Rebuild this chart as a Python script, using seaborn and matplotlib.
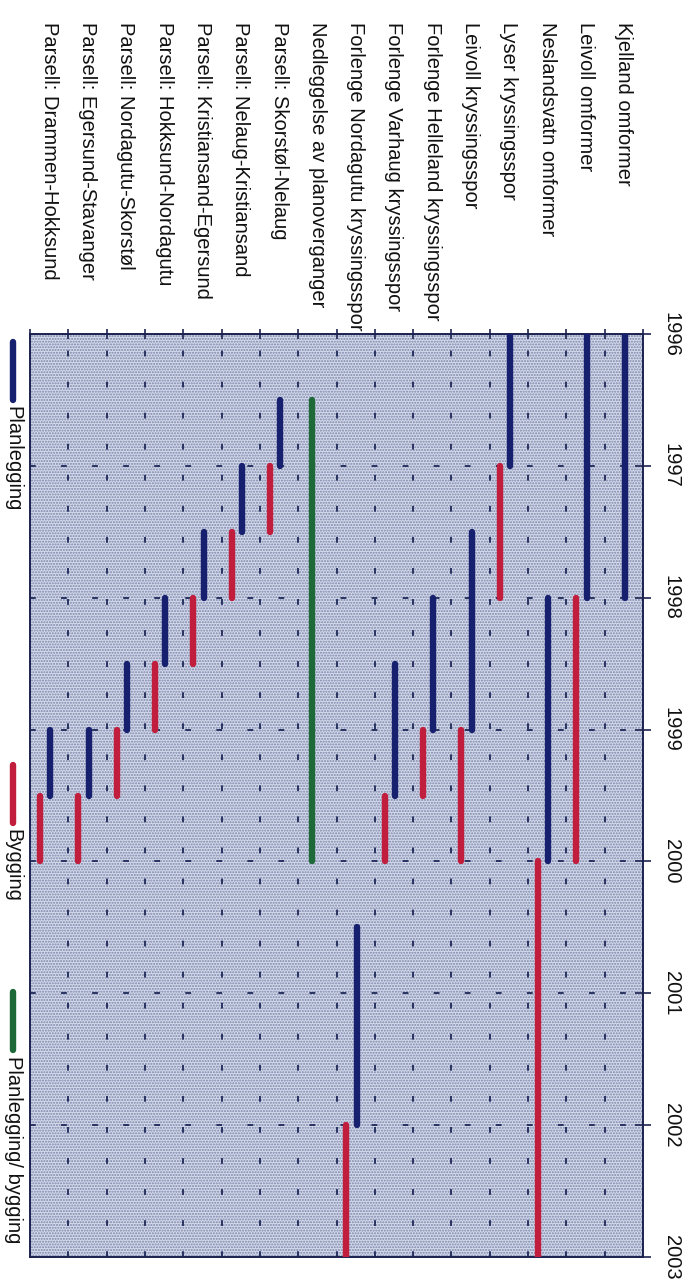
import pandas as pd
import matplotlib
matplotlib.use('Agg')
import matplotlib.pyplot as plt
import matplotlib.transforms as mtransforms
from matplotlib.lines import Line2D
from matplotlib.patches import Rectangle
import seaborn as sns

# --- Data ---
tasks = [
    "Kjelland omformer",
    "Leivoll omformer",
    "Neslandsvatn omformer",
    "Lyser kryssingsspor",
    "Leivoll kryssingsspor",
    "Forlenge Helleland kryssingsspor",
    "Forlenge Varhaug kryssingsspor",
    "Forlenge Nordagutu kryssingsspor",
    "Nedleggelse av planoverganger",
    "Parsell: Skorstøl-Nelaug",
    "Parsell: Nelaug-Kristiansand",
    "Parsell: Kristiansand-Egersund",
    "Parsell: Hokksund-Nordagutu",
    "Parsell: Nordagutu-Skorstøl",
    "Parsell: Egersund-Stavanger",
    "Parsell: Drammen-Hokksund",
]
plan_start = [1996, 1996, 1998, 1996, 1997.5, 1998, 1998.5, 2000.5, None, 1996.5, 1997, 1997.5, 1998, 1998.5, 1999, 1999]
plan_end = [1998, 1998, 2000, 1997, 1999, 1999, 1999.5, 2002, None, 1997, 1997.5, 1998, 1998.5, 1999, 1999.5, 1999.5]
build_start = [None, 1998, 2000, 1997, 1999, 1999, 1999.5, 2002, None, 1997, 1997.5, 1998, 1998.5, 1999, 1999.5, 1999.5]
build_end = [None, 2000, 2003, 1998, 2000, 1999.5, 2000, 2003, None, 1997.5, 1998, 1998.5, 1999, 1999.5, 2000, 2000]
both_start = [None, None, None, None, None, None, None, None, 1996.5, None, None, None, None, None, None, None]
both_end = [None, None, None, None, None, None, None, None, 2000, None, None, None, None, None, None, None]
years = [1996, 1997, 1998, 1999, 2000, 2001, 2002, 2003]

phases = ['Planlegging', 'Bygging', 'Planlegging/ bygging']
colors = {'Planlegging': '#16206e', 'Bygging': '#c11d3c', 'Planlegging/ bygging': '#1d6a38'}
offset = {'Planlegging': 0.03, 'Bygging': -0.24, 'Planlegging/ bygging': -0.13}

# --- Build long table: two rows per segment ---
rows = []
seg = 0
n = len(tasks)
for phase, starts, ends in [('Planlegging', plan_start, plan_end),
                            ('Bygging', build_start, build_end),
                            ('Planlegging/ bygging', both_start, both_end)]:
    for i, (s, e) in enumerate(zip(starts, ends)):
        if s is None:
            continue
        pos = (n - 1 - i) + offset[phase]
        rows.append({'seg': seg, 'phase': phase, 'pos': pos, 'year': s})
        rows.append({'seg': seg, 'phase': phase, 'pos': pos, 'year': e})
        seg += 1
df = pd.DataFrame(rows)

# --- Plot ---
sns.set_theme(style='white')
plt.rcParams['font.family'] = ['Liberation Sans', 'DejaVu Sans']

fig = plt.figure(figsize=(6.97, 12.81), dpi=100)
W, H = 697, 1281
ax = fig.add_axes([30 / W, 1 - 1257 / H, (643 - 30) / W, (1257 - 334) / H])

# halftone-ish plot background
ax.set_facecolor('#d4daeb')
ax.add_patch(Rectangle((0, 0), 1, 1, transform=ax.transAxes, facecolor='none',
                       edgecolor='#7a84a8', hatch='......', lw=0, zorder=0))

sns.lineplot(data=df, x='pos', y='year', hue='phase', units='seg', estimator=None,
             sort=False, palette=colors, linewidth=4.6, solid_capstyle='round',
             legend=False, ax=ax, zorder=3)

ax.set_xlim(-0.5, n - 0.5)
ax.set_ylim(2003, 1996)

# category boundaries as ticks + dashed grid
bounds = [b - 0.5 for b in range(n + 1)]
ax.set_xticks(bounds)
ax.set_xticklabels([])
ax.xaxis.set_ticks_position('top')
ax.set_yticks(years)
ax.set_yticklabels([str(y) for y in years], rotation=-90, va='center', ha='left',
                   fontsize=14.5, color='#111111')
ax.yaxis.set_ticks_position('right')
ax.tick_params(axis='y', direction='inout', length=11, width=1.2, color='#1b2250', pad=8)
ax.tick_params(axis='x', direction='inout', length=7, width=1.2, color='#1b2250')
ax.set_xlabel('')
ax.set_ylabel('')
ax.grid(True, color='#1e2858', lw=1.3, linestyle=(0, (3.2, 14)))
ax.set_axisbelow(True)
for sp in ax.spines.values():
    sp.set_color('#1b2250')
    sp.set_linewidth(1.4)

# category labels (rotated, hanging from the top edge)
trans = mtransforms.blended_transform_factory(ax.transData, fig.transFigure)
for i, t in enumerate(tasks):
    ax.text(n - 1 - i, 1 - 22 / H, t, transform=trans, rotation=-90,
            ha='center', va='top', fontsize=14.5, color='#111111')

# legend, drawn rotated along the left edge
legend_pos = {'Planlegging': (342, 400), 'Bygging': (765, 823), 'Planlegging/ bygging': (992, 1050)}
for ph in phases:
    y0, y1 = legend_pos[ph]
    fig.add_artist(Line2D([13 / W, 13 / W], [1 - y0 / H, 1 - y1 / H], transform=fig.transFigure,
                          color=colors[ph], lw=4.6, solid_capstyle='round'))
    fig.text(13 / W, 1 - (y1 + 6) / H, ph, rotation=-90, ha='center', va='top',
             fontsize=14.5, color='#111111')

fig.savefig('out.png', dpi=100)
plt.close(fig)
